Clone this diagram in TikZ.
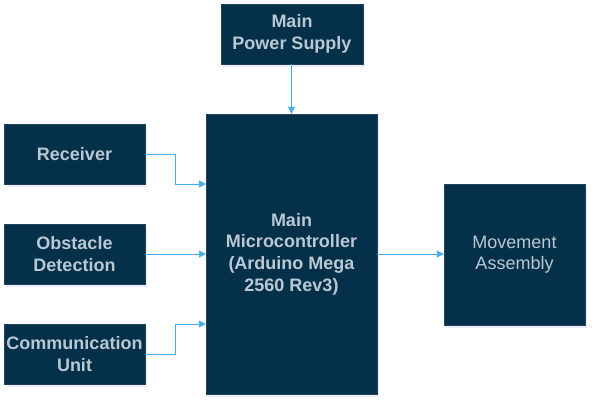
\documentclass[tikz,border=0pt]{standalone}
\usepackage{fontspec}
\setmainfont{Liberation Sans}
\usetikzlibrary{arrows.meta,shadows}
\definecolor{boxfill}{HTML}{04304A}
\definecolor{boxline}{HTML}{23445D}
\definecolor{boxtext}{HTML}{BAC8D3}
\definecolor{linkblue}{HTML}{46ACF0}
\tikzset{
	box/.style={draw=boxline, fill=boxfill, text=boxtext, align=center,
		inner sep=0pt, font=\fontsize{18}{21.6}\selectfont\bfseries,
		drop shadow={shadow xshift=2pt, shadow yshift=-3pt, opacity=0.12, fill=blue!60}},
	link/.style={draw=linkblue, line width=0.9pt,
		-{Triangle[length=7pt,width=7pt]}}
}
\begin{document}
\begin{tikzpicture}[x=1pt, y=-1pt]
	\useasboundingbox (0,0) rectangle (603,414);
	% Bloecke
	\node[box, minimum width=142pt, minimum height=60pt] (power) at (292,34)
		{Main\\Power Supply};
	\node[box, minimum width=141pt, minimum height=60pt] (receiver) at (74.5,154)
		{Receiver};
	\node[box, minimum width=141pt, minimum height=60pt] (obstacle) at (74.5,254)
		{Obstacle\\Detection};
	\node[box, minimum width=141pt, minimum height=60pt] (comm) at (74.5,354)
		{Communication\\Unit};
	\node[box, minimum width=171pt, minimum height=280pt] (mcu) at (291.5,254)
		{Main\\Microcontroller\\(Arduino Mega\\2560 Rev3)};
	\node[box, font=\fontsize{18}{21.6}\selectfont, minimum width=141pt,
		minimum height=141pt] (move) at (514.5,254.5) {Movement\\Assembly};
	% Verbindungen
	\draw[link] ([xshift=-0.5pt]power.south) -- ([xshift=-0.5pt]power.south |- mcu.north);
	\draw[link] (receiver.east) -- ++(30,0) |- ([yshift=70pt]mcu.west);
	\draw[link] (obstacle.east) -- (obstacle.east -| mcu.west);
	\draw[link] (comm.east) -- ++(30,0) |- ([yshift=-70pt]mcu.west);
	\draw[link] (mcu.east) -- (mcu.east -| move.west);
\end{tikzpicture}
\end{document}
